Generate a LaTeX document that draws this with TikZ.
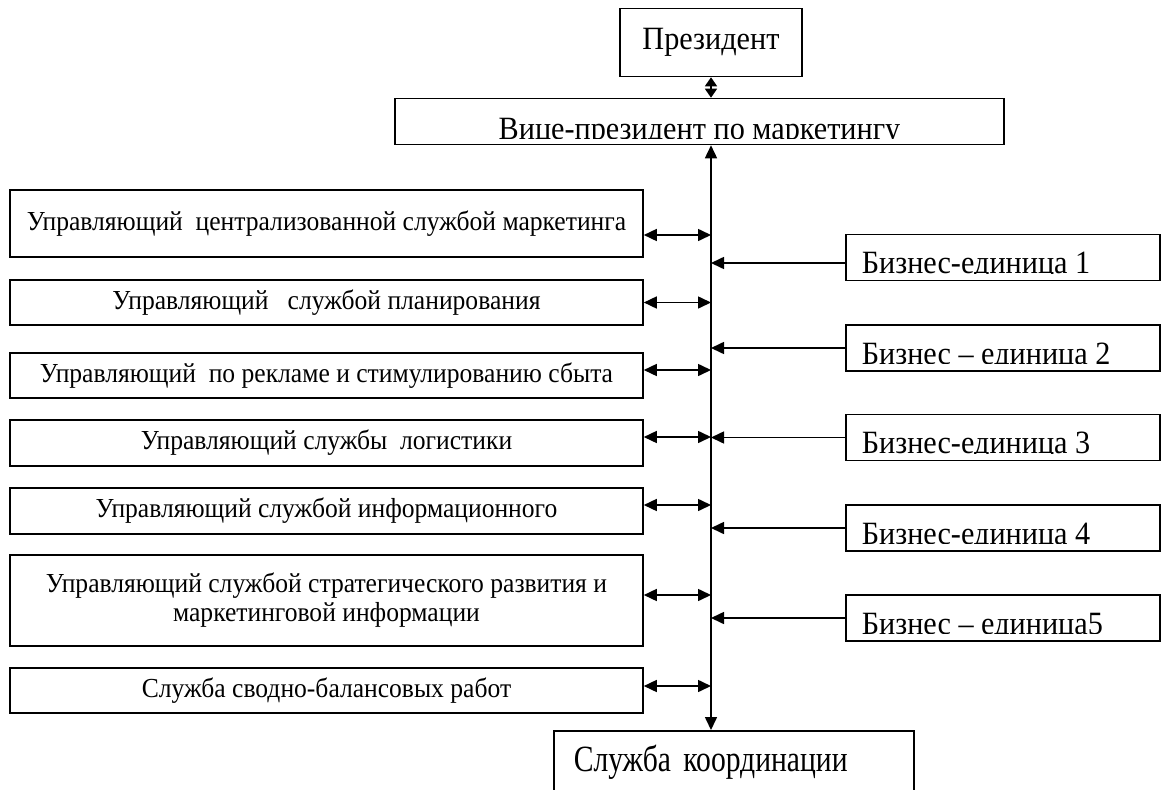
\documentclass[tikz,border=0pt]{standalone}
\usepackage{fontspec}
\setmainfont{Liberation Serif}
\newfontfamily\tallfont[FakeStretch=0.93]{Liberation Serif}
\newfontfamily\tallerfont[FakeStretch=0.8]{Liberation Serif}
\usetikzlibrary{arrows.meta}
\newcommand\largefnt{\tallfont\fontsize{32.5}{38}\selectfont}
\newcommand\smallfnt{\tallfont\fontsize{27.5}{29}\selectfont}
\newcommand\coordfnt{\tallerfont\fontsize{37}{44}\selectfont}
\tikzset{
  box/.style={draw, line width=1.6pt, inner sep=0pt, font=\smallfnt, align=center},
  lbox/.style={box, minimum width=633pt},
  rbox/.style={box, minimum width=314pt, minimum height=46pt,
    path picture={
      \clip ([yshift=7.5pt]path picture bounding box.south west) rectangle (path picture bounding box.north east);
      \node[draw=none, minimum width=0pt, minimum height=0pt, anchor=base west, inner sep=0pt, font=\largefnt]
        at ([xshift=15pt,yshift=7pt]path picture bounding box.south west) {#1};}},
  link/.style={line width=1.6pt}
}
\begin{document}
\begin{tikzpicture}[x=1pt, y=-1pt, >={Triangle[length=13pt,width=12pt]}]
      \useasboundingbox (0,0) rectangle (1163,790);
      \clip (0,0) rectangle (1163,790);
      % top
      \node[box, minimum width=182pt, minimum height=68pt, font=\largefnt] (pres) at (711,42.5) {Президент};
      \node[box, minimum width=609pt, minimum height=46pt,
        path picture={
          \clip ([yshift=6pt]path picture bounding box.south west) rectangle (path picture bounding box.north east);
          \node[draw=none, minimum width=0pt, minimum height=0pt, anchor=base, inner sep=0pt, font=\largefnt]
            at ([yshift=5pt]path picture bounding box.south) {Вице-президент по маркетингу};}] (vp) at (699.5,121.5) {};
      \draw[link, <->, >={Triangle[length=9pt,width=12pt]}] (pres.south) -- (pres.south |- vp.north);
      % left column
      \node[lbox, minimum height=67pt] (m1) at (326.5,223.5) {Управляющий\ \ централизованной службой маркетинга};
      \node[lbox, minimum height=45pt] (m2) at (326.5,302.5) {Управляющий\ \ \ службой планирования};
      \node[lbox, minimum height=45pt] (m3) at (326.5,375.5) {Управляющий\ \ по рекламе и стимулированию сбыта};
      \node[lbox, minimum height=46pt] (m4) at (326.5,443) {Управляющий службы\ \ логистики};
      \node[lbox, minimum height=46pt] (m5) at (326.5,511) {Управляющий службой информационного};
      \node[lbox, minimum height=91pt] (m6) at (326.5,600.5) {Управляющий службой стратегического развития и\\маркетинговой информации};
      \node[lbox, minimum height=45pt] (m7) at (326.5,690.5) {Служба сводно-балансовых работ};
      % right column
      \node[rbox={Бизнес-единица 1}] (b1) at (1003,257.5) {};
      \node[rbox={Бизнес – единица 2}] (b2) at (1003,348) {};
      \node[rbox={Бизнес-единица 3}] (b3) at (1003,437.5) {};
      \node[rbox={Бизнес-единица 4}] (b4) at (1003,528) {};
      \node[rbox={Бизнес – единица5}] (b5) at (1003,618) {};
      % bottom
      \node[box, anchor=north west, minimum width=360pt, minimum height=66pt, text width=320pt, inner xsep=20pt,
        text height=25pt, text depth=9pt, align=left, font=\coordfnt] (coord) at (553,730) {Служба координации};
      % trunk
      \draw[link, <->] (vp.south -| pres.south) -- (coord.north -| pres.south);
      \draw[link, <->] ([yshift=-11.5pt]m1.east) -- ([yshift=-11.5pt]m1.east -| pres.south);
      \draw[link, <->] (m2.east) -- (m2.east -| pres.south);
      \draw[link, <->] ([yshift=5.5pt]m3.east) -- ([yshift=5.5pt]m3.east -| pres.south);
      \draw[link, <->] ([yshift=6pt]m4.east) -- ([yshift=6pt]m4.east -| pres.south);
      \draw[link, <->] ([yshift=6pt]m5.east) -- ([yshift=6pt]m5.east -| pres.south);
      \draw[link, <->] ([yshift=5.5pt]m6.east) -- ([yshift=5.5pt]m6.east -| pres.south);
      \draw[link, <->] ([yshift=4.5pt]m7.east) -- ([yshift=4.5pt]m7.east -| pres.south);
      \draw[link, ->] ([yshift=-5.5pt]b1.west) -- ([yshift=-5.5pt]b1.west -| pres.south);
      \draw[link, ->] (b2.west) -- (b2.west -| pres.south);
      \draw[link, ->] (b3.west) -- (b3.west -| pres.south);
      \draw[link, ->] (b4.west) -- (b4.west -| pres.south);
      \draw[link, ->] (b5.west) -- (b5.west -| pres.south);
    \end{tikzpicture}
\end{document}
